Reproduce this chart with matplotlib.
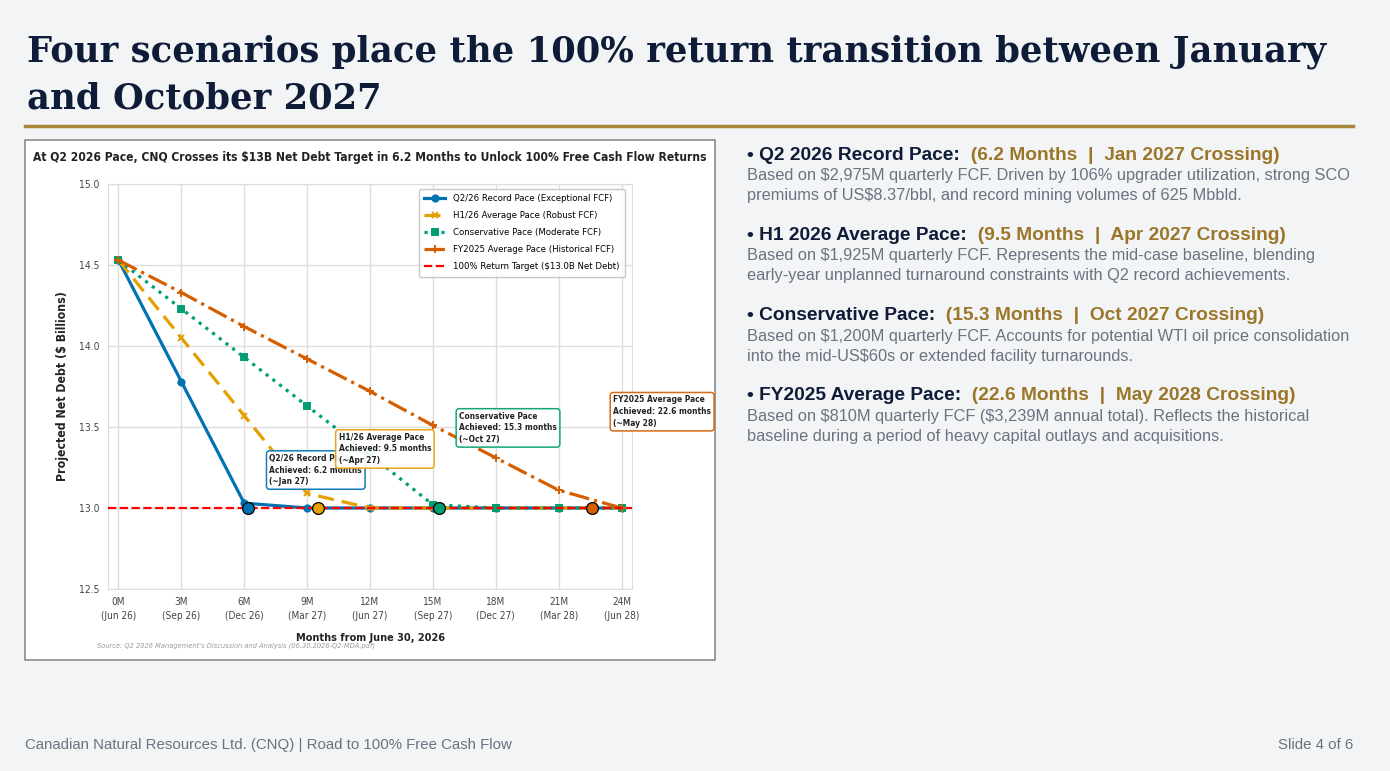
import matplotlib
matplotlib.use("Agg")
import matplotlib.pyplot as plt
from matplotlib.patches import Rectangle
from matplotlib.lines import Line2D

# ---- data ----
months = [0, 3, 6, 9, 12, 15, 18, 21, 24]
month_labels = ["0M\n(Jun 26)", "3M\n(Sep 26)", "6M\n(Dec 26)", "9M\n(Mar 27)", "12M\n(Jun 27)",
                "15M\n(Sep 27)", "18M\n(Dec 27)", "21M\n(Mar 28)", "24M\n(Jun 28)"]
q2_pace = [14.53, 13.78, 13.03, 13.0, 13.0, 13.0, 13.0, 13.0, 13.0]
h1_pace = [14.53, 14.05, 13.57, 13.09, 13.0, 13.0, 13.0, 13.0, 13.0]
cons_pace = [14.53, 14.23, 13.93, 13.63, 13.33, 13.02, 13.0, 13.0, 13.0]
fy25_pace = [14.53, 14.33, 14.12, 13.92, 13.72, 13.51, 13.31, 13.11, 13.0]
target = 13.0
cross_months = [6.2, 9.5, 15.3, 22.6]
cross_notes = ["Q2/26 Record Pace\nAchieved: 6.2 months\n(~Jan 27)",
               "H1/26 Average Pace\nAchieved: 9.5 months\n(~Apr 27)",
               "Conservative Pace\nAchieved: 15.3 months\n(~Oct 27)",
               "FY2025 Average Pace\nAchieved: 22.6 months\n(~May 28)"]
series_names = ["Q2/26 Record Pace (Exceptional FCF)", "H1/26 Average Pace (Robust FCF)",
                "Conservative Pace (Moderate FCF)", "FY2025 Average Pace (Historical FCF)"]

bullet_heads = ["Q2 2026 Record Pace:", "H1 2026 Average Pace:", "Conservative Pace:", "FY2025 Average Pace:"]
bullet_tags = ["(6.2 Months  |  Jan 2027 Crossing)", "(9.5 Months  |  Apr 2027 Crossing)",
               "(15.3 Months  |  Oct 2027 Crossing)", "(22.6 Months  |  May 2028 Crossing)"]
bullet_body = [
    "Based on \\$2,975M quarterly FCF. Driven by 106% upgrader utilization, strong SCO\npremiums of US\\$8.37/bbl, and record mining volumes of 625 Mbbld.",
    "Based on \\$1,925M quarterly FCF. Represents the mid-case baseline, blending\nearly-year unplanned turnaround constraints with Q2 record achievements.",
    "Based on \\$1,200M quarterly FCF. Accounts for potential WTI oil price consolidation\ninto the mid-US\\$60s or extended facility turnarounds.",
    "Based on \\$810M quarterly FCF (\\$3,239M annual total). Reflects the historical\nbaseline during a period of heavy capital outlays and acquisitions.",
]

colors = ["#0072B2", "#E69F00", "#009E73", "#D55E00"]
styles = ["-", (0, (5, 2.5)), ":", "-."]
marks = ["o", "x", "s", "+"]
msizes = [4.5, 5, 3.8, 6]
note_pos = [(7.2, 13.335), (10.5, 13.465), (16.25, 13.595), (23.6, 13.695)]

NAVY = "#0F1C38"
GOLD = "#9C7628"
GREY = "#6B7280"
BG = "#F3F4F6"

W, H = 1390, 771
fig = plt.figure(figsize=(W / 100, H / 100), dpi=100, facecolor=BG)

def fx(px):
    return px / W

def fy(py):
    return 1 - py / H

# title + rule
fig.text(fx(27), fy(75), "Four scenarios place the 100% return transition between January\nand October 2027",
         ha="left", va="center", fontsize=25.5, fontweight="bold", family="DejaVu Serif",
         color=NAVY, linespacing=1.45)
fig.add_artist(Line2D([fx(25), fx(1353)], [fy(126), fy(126)], color="#A8863A", lw=2.5))

# chart panel
fig.add_artist(Rectangle((fx(25), fy(660)), fx(690), 520 / H, facecolor="white",
                         edgecolor="#8a8a8a", lw=1.2, zorder=-1))

cfont = dict(family="DejaVu Sans", stretch="condensed")
ax = fig.add_axes([fx(108), fy(589), fx(524), 405 / H])
ax.set_facecolor("white")
for s in ax.spines.values():
    s.set_color("#dddddd")
ax.grid(True, color="#dddddd", lw=1)
ax.set_axisbelow(True)

for vals, c, ls, m, ms, name in zip([q2_pace, h1_pace, cons_pace, fy25_pace], colors, styles, marks,
                                    msizes, series_names):
    ax.plot(months, vals, color=c, ls=ls, lw=2.3, marker=m, ms=ms, mew=1.4, label=name)
ax.axhline(target, color="red", ls="--", lw=1.6, label="100% Return Target ($13.0B Net Debt)", zorder=3)

for xm, c in zip(cross_months, colors):
    ax.plot(xm, target, "o", ms=8.5, color=c, mec="black", mew=0.9, zorder=6)

for (tx, ty), note, c in zip(note_pos, cross_notes, colors):
    ax.text(tx, ty, note, ha="left", va="top", fontsize=6.0, fontweight="bold", color="#222222",
            linespacing=1.4, zorder=7, clip_on=False,
            bbox=dict(boxstyle="round,pad=0.35", fc="white", ec=c, lw=1.1, alpha=0.92), **cfont)

ax.set_xlim(-0.5, 24.5)
ax.set_ylim(12.5, 15.0)
ax.set_xticks(months)
ax.set_xticklabels(month_labels, fontsize=7.2, color="#444444", linespacing=1.45, **cfont)
ax.set_yticks([12.5, 13.0, 13.5, 14.0, 14.5, 15.0])
ax.set_yticklabels(["12.5", "13.0", "13.5", "14.0", "14.5", "15.0"], fontsize=7.4, color="#444444", **cfont)
ax.tick_params(length=0, pad=6)
ax.set_ylabel("Projected Net Debt (\\$ Billions)", fontsize=8.8, fontweight="bold", color="#222222",
              labelpad=7, **cfont)
ax.set_xlabel("Months from June 30, 2026", fontsize=7.8, fontweight="bold", color="#222222",
              labelpad=9, **cfont)
leg = ax.legend(loc="upper right", frameon=True, borderpad=0.6, handlelength=2.2, labelspacing=0.85,
                prop=dict(size=6.8, **cfont), bbox_to_anchor=(0.995, 1.0))
leg.get_frame().set_edgecolor("#bbbbbb")

fig.text(fx(370), fy(157), "At Q2 2026 Pace, CNQ Crosses its \\$13B Net Debt Target in 6.2 Months to Unlock 100% Free Cash Flow Returns",
         ha="center", va="center", fontsize=8.65, fontweight="bold", color="#222222", **cfont)
fig.text(fx(97), fy(646), "Source: Q2 2026 Management's Discussion and Analysis (06.30.2026-Q2-MDA.pdf)",
         ha="left", va="center", fontsize=5.3, style="italic", color="#9a9a9a", **cfont)

# right-hand commentary
head_y = [155, 235, 316, 396]
for yy, head, tag, body in zip(head_y, bullet_heads, bullet_tags, bullet_body):
    t1 = fig.text(fx(747), fy(yy), "\u2022 " + head, ha="left", va="center", fontsize=13.8,
                  fontweight="bold", color=NAVY, family="Liberation Sans")
    fig.add_artist(plt.Annotation("  " + tag, xy=(1, 0), xycoords=t1, va="bottom", ha="left",
                                  fontsize=13.8, fontweight="bold", color=GOLD, family="Liberation Sans"))
    fig.text(fx(747), fy(yy + 13), body, ha="left", va="top", fontsize=11.8, color=GREY,
             family="Liberation Sans", linespacing=1.45)

# footer
fig.text(fx(25), fy(745), "Canadian Natural Resources Ltd. (CNQ) | Road to 100% Free Cash Flow",
         ha="left", va="center", fontsize=10.8, color=GREY, family="Liberation Sans")
fig.text(fx(1353), fy(745), "Slide 4 of 6", ha="right", va="center", fontsize=10.8, color=GREY,
         family="Liberation Sans")

fig.savefig("out.png", dpi=100, facecolor=BG)
